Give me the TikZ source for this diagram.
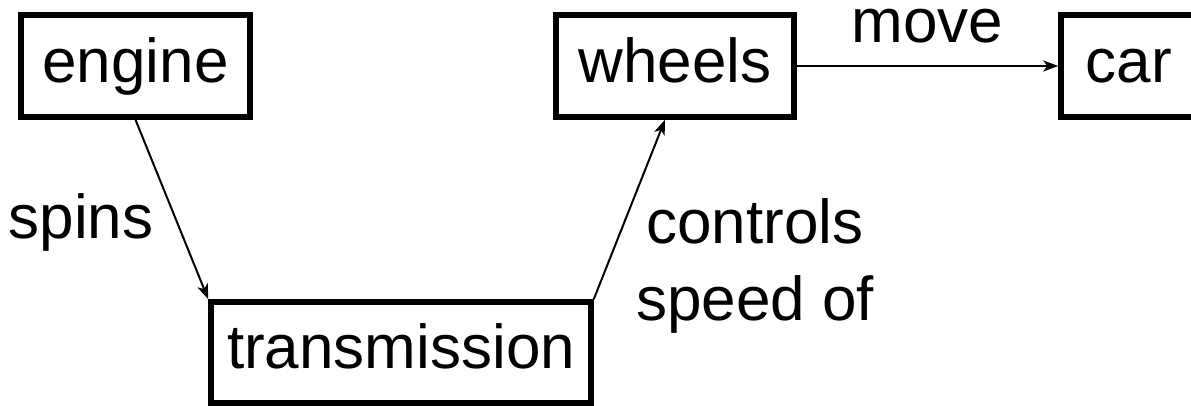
\documentclass[tikz,border=0pt]{standalone}
\usepackage{fontspec}
\setmainfont{Liberation Sans}
\usetikzlibrary{arrows.meta,calc}
\begin{document}
\begin{tikzpicture}[x=1pt,y=-1pt,
  bigfont/.style={font=\fontsize{62}{77}\selectfont},
  box/.style={draw=black,line width=5.5pt,rectangle,bigfont,inner sep=0pt,
    text height=44pt,text depth=10pt,minimum height=102pt},
  lbl/.style={bigfont,inner sep=0pt,anchor=base},
  conn/.style={line width=2pt,-{Stealth[length=15pt,width=11pt,inset=4pt]}}]
\clip (0,0) rectangle (1191,406);
\fill[white] (0,0) rectangle (1191,406);
\node[box,minimum width=229pt] (engine) at (135.5,66) {engine};
\node[box,minimum width=238pt] (wheels) at (675,66) {wheels};
\node[box,minimum width=136pt] (car) at (1129,66) {car};
\node[box,minimum width=380pt,minimum height=101pt,text depth=13pt] (trans) at (401,352.5) {transmission};
\node[lbl] (move) at (927.5,43) {move};
\node[lbl] (spins) at (81,238) {spins};
\node[lbl,align=center] (ctl) at (755,320) {controls\\speed of};
\draw[conn] (engine.south) -- (trans.north west);
\draw[conn] (trans.north east) -- ([xshift=-10pt]wheels.south);
\draw[conn] (wheels.east) -- (car.west);
\end{tikzpicture}
\end{document}
